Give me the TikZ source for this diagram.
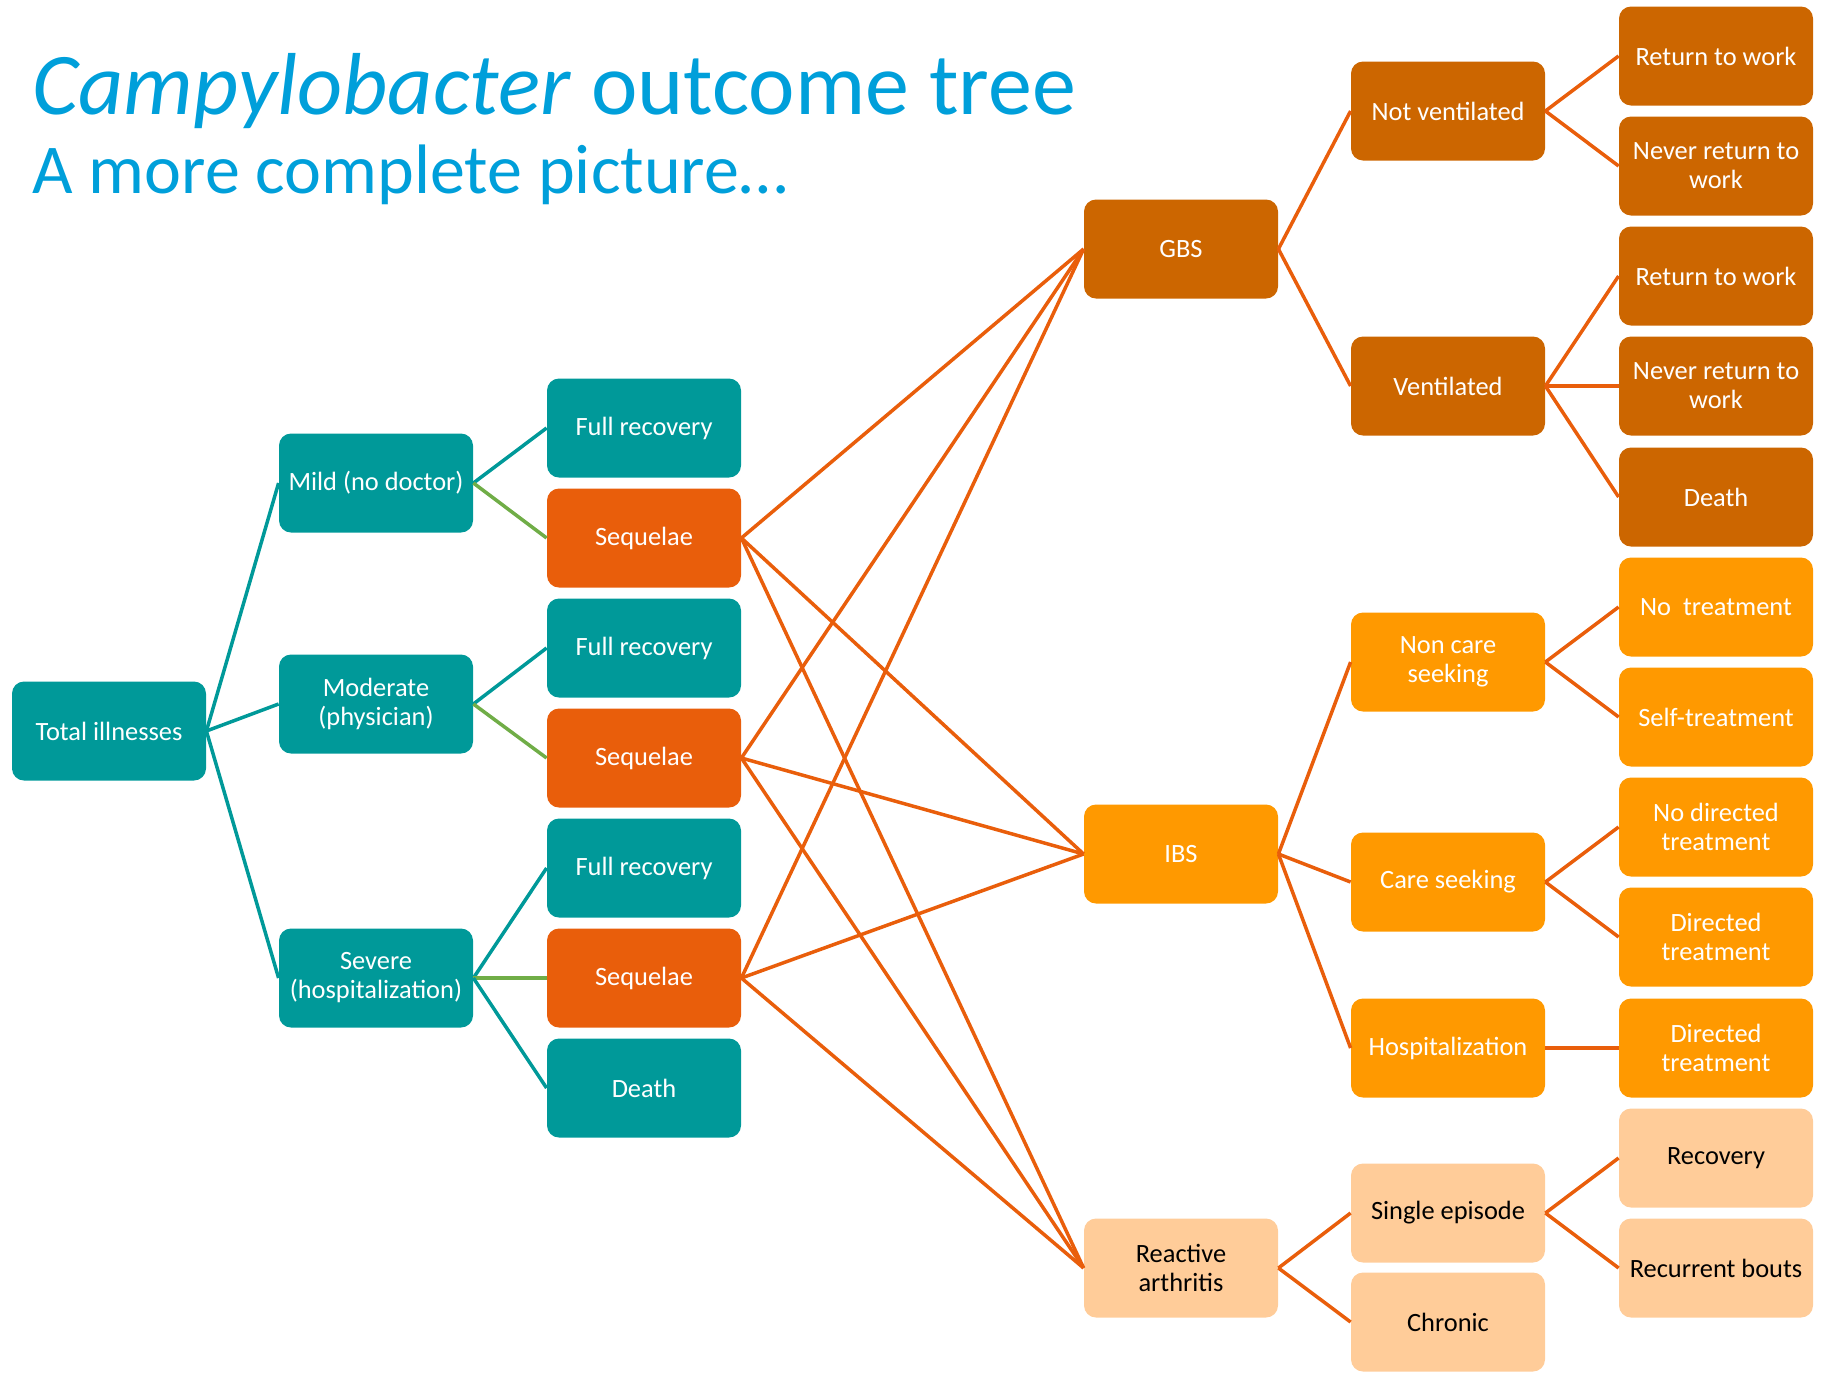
\documentclass[tikz,border=0pt]{standalone}
\usepackage{fontspec}
\setmainfont{Carlito}
\definecolor{cteal}{HTML}{009999}
\definecolor{cseq}{HTML}{E95E0B}
\definecolor{cgbs}{HTML}{CC6600}
\definecolor{cibs}{HTML}{FF9900}
\definecolor{cra}{HTML}{FFCC99}
\definecolor{cgreen}{HTML}{70AD47}
\definecolor{ctitle}{HTML}{009FDA}
\begin{document}
\begin{tikzpicture}[x=0.5pt,y=-0.5pt,
  box/.style={rounded corners=6pt, minimum width=97pt, minimum height=49.5pt,
    inner sep=0pt, align=center, font=\fontsize{13.2}{14.5}\selectfont},
  tealbox/.style={box, fill=cteal, text=white},
  seqbox/.style={box, fill=cseq, text=white},
  gbsbox/.style={box, fill=cgbs, text=white},
  ibsbox/.style={box, fill=cibs, text=white},
  rabox/.style={box, fill=cra, text=black},
  link/.style={line width=1.75pt},
  tealline/.style={link, draw=cteal},
  greenline/.style={link, draw=cgreen},
  orangeline/.style={link, draw=cseq}]
\useasboundingbox (0,0) rectangle (1825,1372);

% title
\node[anchor=base west, inner sep=0pt, text=ctitle, font=\fontsize{44}{50}\selectfont] (title) at (32,114) {\textit{Campylobacter} outcome tree};
\node[anchor=base west, inner sep=0pt, text=ctitle, font=\fontsize{35}{40}\selectfont] (subtitle) at (32,193) {A more complete picture…};

% severity levels
\node[tealbox] (total) at (109,731) {Total illnesses};
\node[tealbox] (mild) at (376,483) {Mild (no doctor)};
\node[tealbox] (moderate) at (376,704) {Moderate\\(physician)};
\node[tealbox] (severe) at (376,978) {Severe\\(hospitalization)};

% outcomes of each level
\node[tealbox] (fr1) at (644,428) {Full recovery};
\node[seqbox]  (sq1) at (644,538) {Sequelae};
\node[tealbox] (fr2) at (644,648) {Full recovery};
\node[seqbox]  (sq2) at (644,758) {Sequelae};
\node[tealbox] (fr3) at (644,868) {Full recovery};
\node[seqbox]  (sq3) at (644,978) {Sequelae};
\node[tealbox] (dth) at (644,1088) {Death};

% sequelae
\node[gbsbox] (gbs) at (1181,249) {GBS};
\node[ibsbox] (ibs) at (1181,854) {IBS};
\node[rabox]  (ra)  at (1181,1268) {Reactive\\arthritis};

% second level of sequelae
\node[gbsbox] (notvent) at (1448,111) {Not ventilated};
\node[gbsbox] (vent)    at (1448,386) {Ventilated};
\node[ibsbox] (noncare) at (1448,662) {Non care\\seeking};
\node[ibsbox] (care)    at (1448,882) {Care seeking};
\node[ibsbox] (hosp)    at (1448,1048) {Hospitalization};
\node[rabox]  (single)  at (1448,1213) {Single episode};
\node[rabox]  (chronic) at (1448,1322) {Chronic};

% final outcomes
\node[gbsbox] (rw1)  at (1716,56)  {Return to work};
\node[gbsbox] (nrw1) at (1716,166) {Never return to\\work};
\node[gbsbox] (rw2)  at (1716,276) {Return to work};
\node[gbsbox] (nrw2) at (1716,386) {Never return to\\work};
\node[gbsbox] (gd)   at (1716,497) {Death};
\node[ibsbox] (notr) at (1716,607) {No~ treatment};
\node[ibsbox] (self) at (1716,717) {Self-treatment};
\node[ibsbox] (nodir) at (1716,827) {No directed\\treatment};
\node[ibsbox] (dir1) at (1716,937) {Directed\\treatment};
\node[ibsbox] (dir2) at (1716,1048) {Directed\\treatment};
\node[rabox]  (rec)  at (1716,1158) {Recovery};
\node[rabox]  (bouts) at (1716,1268) {Recurrent bouts};

% connectors
\draw[tealline] (total.east) -- (mild.west);
\draw[tealline] (total.east) -- (moderate.west);
\draw[tealline] (total.east) -- (severe.west);
\draw[tealline] (mild.east) -- (fr1.west);
\draw[greenline] (mild.east) -- (sq1.west);
\draw[tealline] (moderate.east) -- (fr2.west);
\draw[greenline] (moderate.east) -- (sq2.west);
\draw[tealline] (severe.east) -- (fr3.west);
\draw[greenline] (severe.east) -- (sq3.west);
\draw[tealline] (severe.east) -- (dth.west);

\foreach \s in {sq1,sq2,sq3}{
  \foreach \t in {gbs,ibs,ra}{
    \draw[orangeline] (\s.east) -- (\t.west);
  }
}

\draw[orangeline] (gbs.east) -- (notvent.west);
\draw[orangeline] (gbs.east) -- (vent.west);
\draw[orangeline] (ibs.east) -- (noncare.west);
\draw[orangeline] (ibs.east) -- (care.west);
\draw[orangeline] (ibs.east) -- (hosp.west);
\draw[orangeline] (ra.east) -- (single.west);
\draw[orangeline] (ra.east) -- (chronic.west);

\draw[orangeline] (notvent.east) -- (rw1.west);
\draw[orangeline] (notvent.east) -- (nrw1.west);
\draw[orangeline] (vent.east) -- (rw2.west);
\draw[orangeline] (vent.east) -- (nrw2.west);
\draw[orangeline] (vent.east) -- (gd.west);
\draw[orangeline] (noncare.east) -- (notr.west);
\draw[orangeline] (noncare.east) -- (self.west);
\draw[orangeline] (care.east) -- (nodir.west);
\draw[orangeline] (care.east) -- (dir1.west);
\draw[orangeline] (hosp.east) -- (dir2.west);
\draw[orangeline] (single.east) -- (rec.west);
\draw[orangeline] (single.east) -- (bouts.west);
\end{tikzpicture}
\end{document}
